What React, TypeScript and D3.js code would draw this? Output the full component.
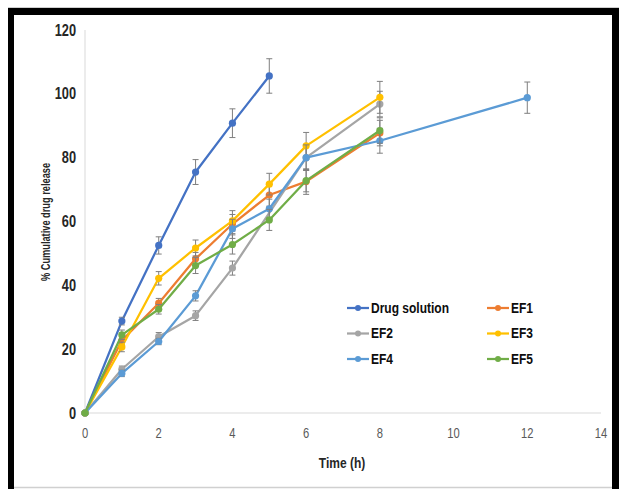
import React from "react";
import * as d3 from "d3";

const xTicks = [0, 2, 4, 6, 8, 10, 12, 14];
const yTicks = [0, 20, 40, 60, 80, 100, 120];

const seriesNames = ["Drug solution", "EF1", "EF2", "EF3", "EF4", "EF5"];
const seriesColors = ["#4472C4", "#ED7D31", "#A5A5A5", "#FFC000", "#5B9BD5", "#70AD47"];

const drugTimes = [0, 1, 2, 3, 4, 5];
const drugValues = [0, 28.8, 52.5, 75.5, 90.8, 105.6];
const drugErrors = [0, 1.2, 2.7, 3.9, 4.5, 5.4];

const ef1Times = [0, 1, 2, 3, 4, 5, 6, 8];
const ef1Values = [0, 22.7, 34.4, 48.3, 59.2, 68.3, 72.5, 87.7];
const ef1Errors = [0, 1.2, 1.5, 2, 3, 3.5, 4, 4];

const ef2Times = [0, 1, 2, 3, 4, 6, 8];
const ef2Values = [0, 13.7, 23.9, 30.5, 45.4, 80, 96.8];
const ef2Errors = [0, 1, 1.3, 1.5, 2.2, 4, 4];

const ef3Times = [0, 1, 2, 3, 4, 5, 6, 8];
const ef3Values = [0, 20.7, 42.2, 51.7, 60.2, 71.7, 83.7, 98.9];
const ef3Errors = [0, 1.5, 2.1, 2.5, 3.2, 3.4, 4.2, 5];

const ef4Times = [0, 1, 2, 3, 4, 5, 6, 8, 12];
const ef4Values = [0, 12.4, 22.4, 36.7, 57.7, 64, 80, 85.3, 98.8];
const ef4Errors = [0, 1, 1, 1.6, 3, 3, 4, 3.9, 4.9];

const ef5Times = [0, 1, 2, 3, 4, 5, 6, 8];
const ef5Values = [0, 24.5, 32.5, 46.2, 52.8, 60.5, 72.8, 88.5];
const ef5Errors = [0, 1.5, 1.5, 2.5, 3, 3.3, 3.5, 4];

const allTimes = [drugTimes, ef1Times, ef2Times, ef3Times, ef4Times, ef5Times];
const allValues = [drugValues, ef1Values, ef2Values, ef3Values, ef4Values, ef5Values];
const allErrors = [drugErrors, ef1Errors, ef2Errors, ef3Errors, ef4Errors, ef5Errors];

const W = 621;
const H = 489;
const SX = 0.8;
const FONT = "Arial, 'Liberation Sans', sans-serif";

export default function App() {
  const x = d3.scaleLinear().domain([0, 14]).range([85, 601]);
  const y = d3.scaleLinear().domain([0, 120]).range([413, 30]);

  const series = seriesNames.map((name, i) => ({
    name,
    color: seriesColors[i],
    pts: allTimes[i].map((t, j) => ({ t, v: allValues[i][j], e: allErrors[i][j] })),
  }));

  const line = d3
    .line<{ t: number; v: number }>()
    .x((d) => x(d.t))
    .y((d) => y(d.v));

  const legendCols = [347, 487];
  const legendRows = [308, 333.5, 359];

  const txt = (
    key: string,
    tx: number,
    ty: number,
    s: string,
    opts: { size: number; weight?: string; fill?: string; anchor?: string; rotate?: number; sx?: number }
  ) => (
    <g key={key} transform={`translate(${tx},${ty}) rotate(${opts.rotate || 0}) scale(${opts.sx || SX},1)`}>
      <text
        x={0}
        y={0}
        fontSize={opts.size}
        fontWeight={opts.weight || "normal"}
        fill={opts.fill || "#262626"}
        textAnchor={opts.anchor || "start"}
        dominantBaseline="central"
        fontFamily={FONT}
      >
        {s}
      </text>
    </g>
  );

  return (
    <svg
      width={W}
      height={H}
      style={{ position: "absolute", left: 0, top: 0, background: "#ffffff" }}
    >
      {/* frame */}
      <rect x={0} y={0} width={W} height={H} fill="#ffffff" />
      <line x1={8} y1={7.5} x2={619} y2={7.5} stroke="#cfcfcf" strokeWidth={1} />
      <rect x={8} y={8} width={611} height={7} fill="#000" />
      <rect x={8} y={8} width={6} height={H} fill="#000" />
      <rect x={612} y={8} width={7} height={H} fill="#000" />
      <line x1={14} y1={487.5} x2={612} y2={487.5} stroke="#d0d0d0" strokeWidth={1.5} />

      {/* axes */}
      <line x1={x(0)} y1={y(0)} x2={x(0)} y2={y(120)} stroke="#d9d9d9" strokeWidth={1} />
      <line x1={x(0)} y1={y(0)} x2={x(14)} y2={y(0)} stroke="#d9d9d9" strokeWidth={1} />

      {yTicks.map((t) =>
        txt(`yt${t}`, 76, y(t), String(t), { size: 16, weight: "bold", anchor: "end", fill: "#262626" })
      )}
      {xTicks.map((t) =>
        txt(`xt${t}`, x(t), 434, String(t), { size: 14, anchor: "middle", fill: "#595959" })
      )}

      {txt("xtitle", 342, 463, "Time (h)", { size: 15, weight: "bold", anchor: "middle" })}
      {txt("ytitle", 45, 222, "% Cumulative drug release", {
        size: 12.5,
        weight: "bold",
        anchor: "middle",
        rotate: -90,
        sx: 0.74,
      })}

      {/* series */}
      {series.map((s) => (
        <g key={s.name}>
          <path d={line(s.pts) || ""} fill="none" stroke={s.color} strokeWidth={2.25} strokeLinejoin="round" />
          {s.pts
            .filter((p) => p.e > 0)
            .map((p, j) => (
              <g key={j} stroke="#7f7f7f" strokeWidth={1}>
                <line x1={x(p.t)} x2={x(p.t)} y1={y(p.v - p.e)} y2={y(p.v + p.e)} />
                <line x1={x(p.t) - 3} x2={x(p.t) + 3} y1={y(p.v - p.e)} y2={y(p.v - p.e)} />
                <line x1={x(p.t) - 3} x2={x(p.t) + 3} y1={y(p.v + p.e)} y2={y(p.v + p.e)} />
              </g>
            ))}
          {s.pts.map((p, j) => (
            <circle key={j} cx={x(p.t)} cy={y(p.v)} r={3.6} fill={s.color} />
          ))}
        </g>
      ))}

      {/* legend */}
      {series.map((s, i) => {
        const cx = legendCols[i % 2];
        const cy = legendRows[Math.floor(i / 2)];
        return (
          <g key={`lg${i}`}>
            <line x1={cx} x2={cx + 22} y1={cy} y2={cy} stroke={s.color} strokeWidth={2.25} />
            <circle cx={cx + 11} cy={cy} r={3} fill={s.color} />
            {txt(`lgt${i}`, cx + 24, cy, s.name, { size: 15, weight: "bold", fill: "#0d0d0d" })}
          </g>
        );
      })}
    </svg>
  );
}
